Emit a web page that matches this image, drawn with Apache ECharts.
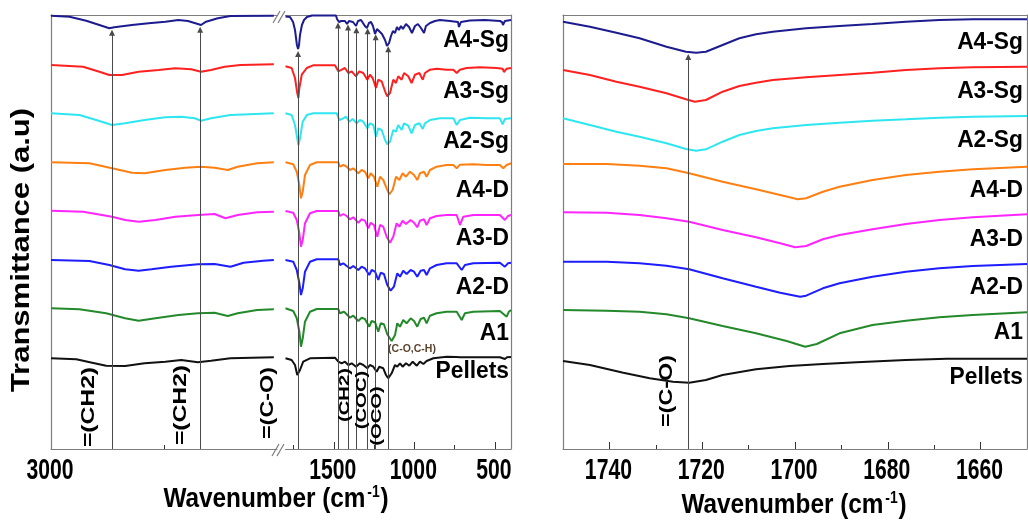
<!DOCTYPE html>
<html>
<head>
<meta charset="utf-8">
<script src="https://cdn.jsdelivr.net/npm/echarts@6/dist/echarts.min.js"></script>
<style>
  html, body { margin: 0; padding: 0; background: #fff; }
  #chart { width: 1028px; height: 523px; }
</style>
</head>
<body>
<div id="chart"></div>
<script>
// FTIR spectra of the pellet and aged films, stacked with vertical offsets.
const samples = ['A4-Sg', 'A3-Sg', 'A2-Sg', 'A4-D', 'A3-D', 'A2-D', 'A1', 'Pellets'];
const colors  = ['#1c1c8f', '#ff2020', '#2ee6f0', '#ff8012', '#ff25ff', '#1d1dff', '#23892a', '#111111'];

// stacking offsets (a.u.) for the full-range panel and the carbonyl close-up
const offsets     = [43.3, 38.4, 33.6, 28.7, 23.8, 18.9, 14.0, 9.1];
const zoomOffsets = [42.7, 37.9, 33.1, 28.5, 23.7, 18.7, 13.9, 8.8];

// 3000-2500 cm-1 : [wavenumber, relative transmittance]
const hiA4Sg = [[3000,0.03],[2959,-0.07],[2922,-0.47],[2893,-0.9],[2871,-1.23],[2860,-1.13],[2821,-0.9],[2784,-0.73],[2747,-0.57],[2718,-0.4],[2697,-0.5],[2675,-0.8],[2668,-0.9],[2657,-0.57],[2631,-0.23],[2603,0],[2507,0.03]];
const hiA3Sg = [[3000,0],[2929,-0.17],[2893,-0.67],[2871,-1.0],[2843,-1.0],[2806,-0.67],[2762,-0.5],[2725,-0.33],[2690,-0.43],[2668,-0.67],[2646,-0.5],[2616,-0.17],[2581,0],[2507,0.07]];
const hiA2Sg = [[3000,-0.03],[2937,-0.2],[2900,-0.7],[2865,-1.2],[2836,-1.03],[2793,-0.7],[2747,-0.43],[2712,-0.37],[2682,-0.53],[2668,-0.77],[2646,-0.53],[2603,-0.2],[2507,-0.03]];
const hiA4D  = [[3000,-0.03],[2915,-0.13],[2865,-0.63],[2821,-1.07],[2793,-1.13],[2747,-0.8],[2703,-0.57],[2668,-0.47],[2638,-0.57],[2609,-0.8],[2587,-0.47],[2544,-0.13],[2507,-0.03]];
const hiA3D  = [[3000,0.03],[2929,-0.07],[2865,-0.57],[2836,-0.9],[2806,-1.07],[2769,-0.9],[2725,-0.57],[2675,-0.4],[2638,-0.3],[2614,-0.73],[2587,-0.4],[2544,-0.13],[2507,-0.07]];
const hiA2D  = [[3000,0],[2915,-0.1],[2871,-0.5],[2836,-0.93],[2806,-1.07],[2778,-0.93],[2734,-0.67],[2675,-0.43],[2638,-0.4],[2603,-0.67],[2574,-0.27],[2531,-0.07],[2507,0]];
const hiA1   = [[3000,0.07],[2937,-0.03],[2878,-0.43],[2836,-0.93],[2806,-1.17],[2769,-0.93],[2718,-0.6],[2675,-0.43],[2638,-0.37],[2609,-0.7],[2587,-0.43],[2544,-0.1],[2507,-0.03]];
const hiPellets = [[3000,-0.03],[2944,-0.13],[2909,-0.47],[2878,-0.77],[2836,-0.8],[2793,-0.53],[2747,-0.37],[2712,-0.2],[2675,-0.43],[2646,-0.27],[2603,-0.03],[2507,0.07]];

// 1800-400 cm-1 fingerprint region
const fpA4Sg = [[1800,-0.05],[1772,-0.1],[1753,-0.6],[1741,-1.4],[1729,-2.9],[1722,-3.3],[1716,-2.9],[1710,-1.9],[1698,-0.9],[1685,-0.4],[1667,-0.1],[1636,0.05],[1487,0.05],[1480,-0.3],[1468,-0.6],[1455,-0.5],[1443,-0.35],[1431,-0.5],[1418,-0.8],[1406,-0.5],[1394,-0.3],[1381,-0.6],[1362,-1.0],[1350,-0.5],[1331,-0.4],[1319,-0.6],[1307,-1.0],[1294,-1.2],[1282,-0.7],[1269,-0.6],[1257,-1.0],[1244,-1.8],[1232,-1.3],[1220,-1.4],[1201,-1.8],[1182,-2.4],[1170,-3.0],[1157,-2.7],[1145,-2.0],[1133,-1.5],[1120,-1.7],[1108,-1.1],[1096,-1.4],[1083,-1.0],[1071,-1.3],[1052,-0.8],[1033,-1.1],[1015,-1.7],[996,-1.0],[978,-0.8],[959,-1.2],[940,-1.7],[928,-1.0],[903,-0.7],[872,-0.5],[841,-0.4],[779,-0.5],[729,-0.6],[723,-1.1],[711,-0.6],[655,-0.45],[562,-0.4],[469,-0.5],[456,-0.6],[450,-0.9],[438,-0.5],[400,-0.4]];
const fpA3Sg = [[1800,-0.13],[1762,-0.3],[1741,-1.3],[1727,-2.8],[1720,-3.3],[1714,-2.3],[1699,-0.97],[1668,-0.3],[1629,-0.03],[1493,-0.03],[1472,-0.63],[1451,-0.47],[1431,-0.3],[1410,-0.8],[1389,-0.63],[1362,-1.13],[1342,-0.63],[1317,-0.8],[1292,-1.47],[1276,-0.97],[1259,-1.3],[1238,-2.3],[1224,-1.47],[1203,-1.63],[1182,-2.63],[1168,-3.13],[1151,-2.8],[1131,-1.47],[1114,-1.8],[1100,-1.13],[1079,-1.47],[1064,-0.8],[1038,-1.13],[1017,-1.8],[996,-0.97],[969,-0.8],[948,-1.47],[934,-0.8],[903,-0.47],[862,-0.37],[800,-0.47],[758,-0.47],[737,-0.8],[717,-0.47],[676,-0.3],[593,-0.23],[489,-0.3],[452,-0.37],[444,-0.7],[427,-0.37],[400,-0.3]];
const fpA2Sg = [[1800,-0.03],[1762,-0.2],[1741,-1.2],[1720,-3.2],[1710,-2.53],[1693,-0.87],[1668,-0.2],[1627,-0.03],[1482,-0.03],[1466,-0.7],[1441,-0.53],[1424,-0.37],[1404,-0.87],[1383,-0.6],[1358,-1.03],[1338,-0.7],[1317,-0.87],[1292,-1.53],[1276,-1.03],[1255,-1.2],[1238,-2.37],[1224,-1.53],[1203,-1.7],[1182,-2.7],[1168,-3.13],[1151,-2.87],[1131,-1.7],[1114,-1.87],[1100,-1.2],[1079,-1.7],[1064,-1.03],[1038,-1.27],[1017,-2.03],[996,-1.2],[969,-1.03],[948,-1.6],[934,-1.03],[903,-0.7],[841,-0.53],[758,-0.53],[737,-1.2],[717,-0.7],[655,-0.47],[551,-0.53],[469,-0.53],[452,-1.13],[438,-0.6],[400,-0.53]];
const fpA4D  = [[1800,-0.03],[1752,-0.23],[1730,-0.97],[1714,-2.3],[1704,-3.63],[1693,-2.97],[1679,-1.3],[1648,-0.3],[1606,-0.03],[1472,-0.03],[1462,-0.47],[1441,-0.3],[1420,-0.47],[1400,-0.8],[1379,-0.63],[1348,-1.13],[1327,-0.8],[1307,-0.97],[1286,-1.63],[1271,-1.13],[1251,-1.47],[1230,-2.47],[1213,-1.47],[1193,-1.8],[1172,-2.63],[1156,-3.23],[1135,-2.8],[1114,-1.47],[1093,-1.8],[1073,-1.13],[1052,-1.47],[1027,-0.97],[1002,-1.3],[982,-1.8],[965,-1.13],[940,-0.97],[924,-1.47],[903,-0.8],[862,-0.47],[800,-0.3],[758,-0.3],[737,-0.63],[717,-0.27],[634,-0.23],[551,-0.3],[469,-0.3],[448,-0.63],[427,-0.3],[400,-0.13]];
const fpA3D  = [[1800,0],[1752,-0.17],[1730,-0.9],[1714,-2.23],[1704,-3.57],[1693,-2.9],[1679,-1.23],[1648,-0.23],[1606,0],[1472,0],[1462,-0.5],[1441,-0.3],[1420,-0.5],[1400,-0.83],[1379,-0.63],[1348,-1.17],[1327,-0.83],[1307,-0.97],[1286,-1.73],[1271,-1.17],[1251,-1.4],[1230,-2.57],[1213,-1.4],[1193,-1.57],[1172,-2.57],[1151,-3.17],[1131,-2.57],[1110,-1.23],[1093,-1.57],[1073,-0.97],[1052,-1.3],[1023,-0.9],[1002,-1.17],[982,-1.63],[965,-0.97],[940,-0.83],[924,-1.4],[903,-0.73],[862,-0.5],[800,-0.4],[737,-0.4],[717,-1.4],[696,-0.57],[634,-0.4],[469,-0.4],[438,-0.9],[419,-0.5],[400,-0.4]];
const fpA2D  = [[1800,0],[1752,-0.17],[1730,-1.0],[1714,-2.33],[1704,-3.5],[1693,-2.83],[1679,-1.17],[1648,-0.17],[1606,0.07],[1472,0.07],[1462,-0.5],[1441,-0.33],[1420,-0.6],[1400,-0.83],[1379,-0.6],[1348,-1.0],[1327,-0.67],[1307,-0.83],[1280,-1.5],[1265,-1.0],[1244,-1.17],[1224,-2.0],[1209,-1.27],[1189,-1.4],[1168,-2.5],[1147,-3.07],[1127,-2.67],[1106,-1.33],[1089,-1.67],[1069,-1.07],[1048,-1.4],[1023,-1.0],[1002,-1.17],[982,-1.67],[961,-1.07],[940,-1.0],[924,-1.5],[903,-0.83],[862,-0.5],[800,-0.33],[737,-0.33],[706,-1.0],[686,-0.5],[634,-0.33],[469,-0.27],[438,-0.67],[419,-0.33],[400,-0.27]];
const fpA1   = [[1800,0.07],[1752,-0.2],[1730,-0.93],[1714,-2.27],[1704,-3.77],[1693,-2.93],[1679,-1.27],[1648,-0.27],[1606,0],[1472,0],[1462,-0.43],[1437,-0.27],[1420,-0.53],[1400,-0.87],[1379,-0.67],[1348,-1.2],[1327,-0.87],[1307,-1.0],[1280,-1.77],[1265,-1.2],[1244,-1.33],[1224,-2.27],[1209,-1.43],[1189,-1.53],[1168,-2.53],[1141,-3.2],[1120,-2.6],[1106,-1.43],[1089,-1.77],[1069,-1.1],[1048,-1.43],[1023,-0.93],[1002,-1.2],[982,-1.77],[961,-1.0],[940,-0.87],[924,-1.43],[903,-0.67],[862,-0.43],[800,-0.27],[737,-0.27],[706,-1.1],[686,-0.43],[634,-0.27],[469,-0.2],[427,-0.77],[413,-0.27],[400,-0.1]];
const fpPellets = [[1800,-0.03],[1762,-0.2],[1741,-0.7],[1727,-1.7],[1720,-1.87],[1710,-1.2],[1690,-0.37],[1648,-0.03],[1493,0.03],[1472,-0.37],[1451,-0.53],[1431,-0.37],[1410,-0.7],[1389,-0.53],[1362,-0.87],[1338,-0.53],[1317,-0.7],[1292,-1.03],[1276,-0.7],[1255,-0.87],[1234,-1.37],[1218,-0.87],[1193,-1.03],[1176,-1.7],[1162,-2.03],[1141,-1.53],[1120,-0.7],[1106,-0.87],[1089,-0.53],[1073,-0.87],[1052,-0.53],[1031,-0.77],[1010,-0.37],[985,-0.77],[965,-0.37],[944,-0.6],[924,-0.3],[882,-0.03],[800,0.13],[737,0.1],[731,-0.1],[717,0.07],[469,0.07],[438,-0.1],[425,0.07],[400,0.1]];

// 1750-1650 cm-1 carbonyl close-up
const coA4Sg = [[1750,0.03],[1744.2,-0.47],[1738.5,-1.07],[1733.5,-1.63],[1727.7,-2.47],[1723.5,-2.97],[1721.3,-3.07],[1719.2,-2.97],[1715.6,-2.3],[1712,-1.63],[1708.4,-1.23],[1704.8,-0.97],[1697.6,-0.63],[1690.4,-0.4],[1683.3,-0.2],[1676.1,0.03],[1668.9,0.2],[1661.7,0.27],[1650,0.27]];
const coA3Sg = [[1750,0],[1744.2,-0.5],[1738.5,-1.17],[1733.5,-1.67],[1727.7,-2.33],[1723.5,-2.93],[1721.6,-3.17],[1719.2,-3.0],[1715.6,-2.17],[1712,-1.6],[1708.4,-1.27],[1704.8,-1.0],[1697.6,-0.73],[1690.4,-0.5],[1683.3,-0.27],[1676.1,0],[1668.9,0.17],[1661.7,0.27],[1650,0.33]];
const coA2Sg = [[1750,-0.03],[1744.2,-0.7],[1738.5,-1.37],[1733.5,-1.87],[1727.7,-2.53],[1723.5,-3.1],[1721.3,-3.27],[1719.2,-3.13],[1715.6,-2.37],[1712,-1.7],[1708.4,-1.3],[1704.8,-1.03],[1697.6,-0.7],[1690.4,-0.47],[1683.3,-0.27],[1676.1,-0.13],[1668.9,0.03],[1661.7,0.13],[1650,0.2]];
const coA4D  = [[1750,0],[1740.6,0],[1733.5,-0.17],[1727.7,-0.43],[1722.8,-0.93],[1715.6,-1.77],[1708.4,-2.53],[1703.2,-3.1],[1699.4,-3.53],[1697.6,-3.43],[1694,-2.77],[1690.4,-2.27],[1683.3,-1.6],[1676.1,-1.1],[1668.9,-0.77],[1661.7,-0.53],[1650,-0.27]];
const coA3D  = [[1750,-0.03],[1740.6,-0.07],[1733.5,-0.3],[1727.7,-0.63],[1722.8,-0.97],[1715.6,-1.8],[1708.4,-2.53],[1703.2,-3.13],[1700,-3.53],[1697.6,-3.4],[1694,-2.73],[1690.4,-2.3],[1683.3,-1.73],[1676.1,-1.2],[1668.9,-0.8],[1661.7,-0.53],[1650,-0.23]];
const coA2D  = [[1750,0.03],[1740.6,0.03],[1733.5,-0.13],[1727.7,-0.37],[1722.8,-0.73],[1715.6,-1.63],[1708.4,-2.47],[1703.2,-3.07],[1698.9,-3.47],[1697.6,-3.37],[1694,-2.63],[1690.4,-2.13],[1683.3,-1.47],[1676.1,-0.97],[1668.9,-0.63],[1661.7,-0.4],[1650,-0.2]];
const coA1   = [[1750,0],[1740.6,-0.07],[1733.5,-0.17],[1727.7,-0.43],[1722.8,-0.83],[1715.6,-1.6],[1708.4,-2.33],[1701.8,-3.1],[1697.8,-3.67],[1695.3,-3.4],[1690.4,-2.33],[1683.3,-1.5],[1676.1,-1.07],[1668.9,-0.73],[1661.7,-0.5],[1650,-0.23]];
const coPellets = [[1750,0],[1744.2,-0.4],[1737,-1.17],[1731.3,-1.73],[1726.3,-2.07],[1722.8,-2.17],[1719.2,-1.9],[1715.6,-1.4],[1708.4,-0.83],[1701.2,-0.5],[1694,-0.3],[1686.7,-0.13],[1676.1,0.1],[1667.3,0.23],[1650,0.23]];

// assigned bands (cm-1)
const bandsHigh = [2865, 2670];
const bandsFinger = [1722, 1474, 1412, 1360, 1290, 1240, 1162];
const bandsCarbonyl = [1723];

// axis ticks and labels
const hiTicks = [2750];
const hiLabels = [3000];
const fpMajor = [1500, 1000, 500];
const fpMinor = [1750, 1250, 750];
const coMajor = [1740, 1720, 1700, 1680, 1660];
const coMinor = [1730, 1710, 1690, 1670];

const hiData = [hiA4Sg, hiA3Sg, hiA2Sg, hiA4D, hiA3D, hiA2D, hiA1, hiPellets];
const fpData = [fpA4Sg, fpA3Sg, fpA2Sg, fpA4D, fpA3D, fpA2D, fpA1, fpPellets];
const coData = [coA4Sg, coA3Sg, coA2Sg, coA4D, coA3D, coA2D, coA1, coPellets];

const Y_MAX = 43.4;
const FRAME = '#7d7d7d';
const BASE_FONT = '"Liberation Sans", Arial, Helvetica, sans-serif';

function shifted(arr, off) {
  return arr.map(p => [p[0], +(off + p[1]).toFixed(3)]);
}
function valueAt(arr, wn) {
  for (let k = 0; k < arr.length - 1; k++) {
    const [x0, y0] = arr[k], [x1, y1] = arr[k + 1];
    if ((wn <= x0 && wn >= x1) || (wn >= x0 && wn <= x1)) {
      return y0 + (wn - x0) / (x1 - x0) * (y1 - y0);
    }
  }
  return arr[arr.length - 1][1];
}
// vertical marker from the bottom of the frame up to just under the top spectrum
function bandLines(bands, arr, off) {
  return bands.map(wn => [{ coord: [wn, 0] }, { coord: [wn, off + valueAt(arr, wn) - 0.5] }]);
}
function markLineOf(bands, arr, off) {
  return {
    silent: true,
    symbol: ['none', 'triangle'],
    symbolSize: 6,
    lineStyle: { color: '#4a4a4a', width: 1, type: 'solid' },
    label: { show: false },
    emphasis: { disabled: true },
    animation: false,
    data: bandLines(bands, arr, off)
  };
}

const grids = [
  { left: 51, top: 15, width: 226, height: 434 },      // 3000-2500
  { left: 285.5, top: 15, width: 225.5, height: 434 }, // 1800-400
  { left: 563, top: 15, width: 464, height: 434 },     // 1750-1650
  { left: 285.5, top: 15, width: 225.5, height: 434 }, // minor ticks of 1800-400
  { left: 563, top: 15, width: 464, height: 434 }      // minor ticks of 1750-1650
];

const hiddenLabel = { show: false };
const frameLine = { show: true, onZero: false, lineStyle: { color: FRAME, width: 1.2 } };

function xAxis(grid, min, max, extra) {
  return Object.assign({
    type: 'value', gridIndex: grid, min, max, inverse: true,
    splitLine: { show: false }, axisLine: frameLine,
    axisTick: { show: false }, axisLabel: hiddenLabel
  }, extra);
}
function yAxis(grid, extra) {
  return Object.assign({
    type: 'value', gridIndex: grid, min: 0, max: Y_MAX,
    splitLine: { show: false }, axisLine: frameLine,
    axisTick: { show: false }, axisLabel: hiddenLabel
  }, extra);
}
const tickOf = (values, length) => ({ show: true, inside: true, length, customValues: values, lineStyle: { color: '#333' } });

const xAxes = [
  xAxis(0, 2500, 3000, { position: 'bottom', axisTick: tickOf(hiTicks, 4) }),
  xAxis(0, 2500, 3000, { position: 'top' }),
  xAxis(1, 400, 1800, { position: 'bottom', axisTick: tickOf(fpMajor, 7) }),
  xAxis(1, 400, 1800, { position: 'top' }),
  xAxis(2, 1650, 1750, { position: 'bottom', axisTick: tickOf(coMajor, 7) }),
  xAxis(2, 1650, 1750, { position: 'top' }),
  xAxis(3, 400, 1800, { position: 'bottom', axisLine: { show: false }, axisTick: tickOf(fpMinor, 4) }),
  xAxis(4, 1650, 1750, { position: 'bottom', axisLine: { show: false }, axisTick: tickOf(coMinor, 4) })
];
const yAxes = [
  yAxis(0, { position: 'left' }),
  yAxis(1, { position: 'right' }),
  yAxis(2, { position: 'left' }),
  yAxis(2, { position: 'right' }),
  yAxis(3, { show: false }),
  yAxis(4, { show: false })
];

const series = [];
samples.forEach((name, i) => {
  const common = {
    type: 'line', name, showSymbol: false, symbol: 'none', silent: true,
    animation: false, z: 3, clip: true,
    lineStyle: { color: colors[i], width: 2 }
  };
  const hi = Object.assign({}, common, { xAxisIndex: 0, yAxisIndex: 0, data: shifted(hiData[i], offsets[i]) });
  const fp = Object.assign({}, common, { xAxisIndex: 2, yAxisIndex: 1, data: shifted(fpData[i], offsets[i]) });
  const co = Object.assign({}, common, { xAxisIndex: 4, yAxisIndex: 2, data: shifted(coData[i], zoomOffsets[i]) });
  if (i === 0) {
    hi.markLine = markLineOf(bandsHigh, hiData[0], offsets[0]);
    fp.markLine = markLineOf(bandsFinger, fpData[0], offsets[0]);
    co.markLine = markLineOf(bandsCarbonyl, coData[0], zoomOffsets[0]);
  }
  series.push(hi, fp, co);
});

// text
const boldFont = size => 'bold ' + size + 'px ' + BASE_FONT;
const graphic = [];
function text(x, y, str, size, opts) {
  opts = opts || {};
  graphic.push({
    type: 'text', x, y, silent: true, z: 10,
    rotation: opts.rotate ? Math.PI / 2 : 0,
    scaleX: opts.scaleX || 1,
    style: Object.assign({
      text: str, font: opts.font || boldFont(size), fill: opts.fill || '#000',
      textAlign: opts.align || 'center', textVerticalAlign: 'middle'
    }, opts.style || {})
  });
}

text(22, 250, 'Transmittance (a.u)', 25, { rotate: true, scaleX: 1.24 });

const titleStyle = { rich: { sup: { font: boldFont(16), verticalAlign: 'top', padding: [0, 1, 12, 2] } } };
text(276, 499, 'Wavenumber (cm{sup|-1})', 28, { scaleX: 0.87, style: titleStyle });
text(794, 505, 'Wavenumber (cm{sup|-1})', 28, { scaleX: 0.87, style: titleStyle });

const leftLabelY  = [40, 91, 141, 190, 238, 287, 333, 371];
const rightLabelY = [42, 91, 140, 190, 239, 287, 332, 377];
samples.forEach((name, i) => {
  text(509, leftLabelY[i], name, 24, { align: 'right', scaleX: 0.95 });
  text(1023, rightLabelY[i], name, 24, { align: 'right', scaleX: 0.95 });
});

// band assignments
text(89.5, 407, '=(CH2)', 18, { rotate: true, scaleX: 1.37 });
text(181.5, 405, '=(CH2)', 18, { rotate: true, scaleX: 1.37 });
text(268.5, 403, '=(C-O)', 18, { rotate: true, scaleX: 1.3 });
text(344.5, 395, '(CH2)', 15, { rotate: true, scaleX: 1.35 });
text(362, 400, '(COC)', 15, { rotate: true, scaleX: 1.35 });
text(376.5, 416, '(OCO)', 15, { rotate: true, scaleX: 1.35 });
text(667, 391, '=(C-O)', 18, { rotate: true, scaleX: 1.3 });
text(412, 349.5, '(C-O,C-H)', 10.5, { font: 'bold 10.5px ' + BASE_FONT, fill: '#5c4430' });

// axis-break marks
[[273, 23, 280, 11], [278, 23, 285, 11], [272, 456, 279, 444], [277, 456, 284, 444]].forEach(s => {
  graphic.push({ type: 'line', silent: true, z: 10,
    shape: { x1: s[0], y1: s[1], x2: s[2], y2: s[3] },
    style: { stroke: FRAME, lineWidth: 1.2 } });
});

const chart = echarts.init(document.getElementById('chart'));
chart.setOption({
  backgroundColor: '#fff',
  animation: false,
  grid: grids,
  xAxis: xAxes,
  yAxis: yAxes,
  series,
  graphic
});

// tick labels in a condensed bold face, placed under their ticks through the axis scales
[[0, hiLabels], [2, fpMajor], [4, coMajor]].forEach(([axisIndex, values]) => {
  values.forEach(v => {
    const x = chart.convertToPixel({ xAxisIndex: axisIndex }, v);
    text(x - 1, 471, String(v), 29, { scaleX: 0.73 });
  });
});
chart.setOption({ graphic });
</script>
</body>
</html>
